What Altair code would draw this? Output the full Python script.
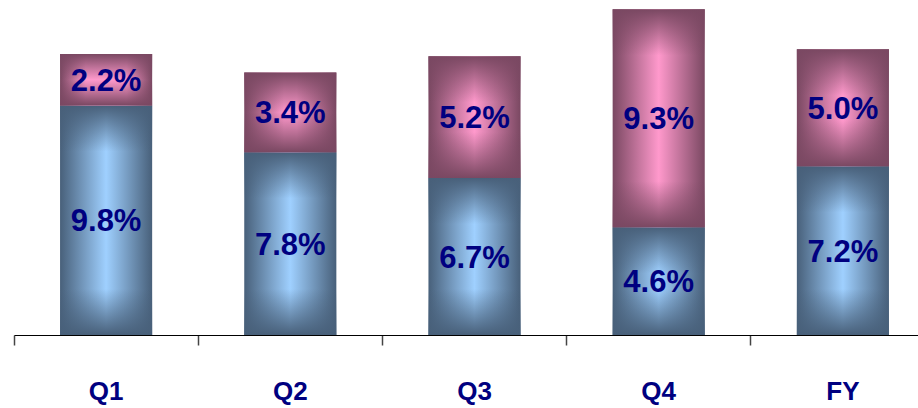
import altair as alt
import pandas as pd

categories = ["Q1", "Q2", "Q3", "Q4", "FY"]
bottom_values = [9.8, 7.8, 6.7, 4.6, 7.2]
top_values = [2.2, 3.4, 5.2, 9.3, 5.0]
bottom_labels = ["9.8%", "7.8%", "6.7%", "4.6%", "7.2%"]
top_labels = ["2.2%", "3.4%", "5.2%", "9.3%", "5.0%"]

Y_MAX = 14.3
PLOT_H = 335
PLOT_W = 904
RANGE_W = 921
BAR_W = RANGE_W / len(categories) * 0.5

BLUE_DARK = (72, 96, 122)
BLUE_LIGHT = "#9fd0ff"
PINK_DARK = (122, 72, 98)
PINK_LIGHT = "#ff99cc"

rows = []
for c, b, t, lb, lt in zip(categories, bottom_values, top_values, bottom_labels, top_labels):
    rows.append(dict(cat=c, series="bottom", y0=0.0, y1=b, mid=b / 2, label=lb))
    rows.append(dict(cat=c, series="top", y0=b, y1=b + t, mid=b + t / 2, label=lt))
df = pd.DataFrame(rows)

x_enc = alt.X(
    "cat:N",
    sort=categories,
    scale=alt.Scale(domain=categories, range=[0, RANGE_W], paddingInner=0, paddingOuter=0),
    axis=alt.Axis(
        title=None, bandPosition=0,
        tickSize=10, tickColor="#444444", tickWidth=1.5,
        domainColor="#000000", domainWidth=1.2,
        labelFont="Liberation Sans", labelFontSize=26, labelFontWeight="bold",
        labelColor="#000080", labelPadding=33, labelAngle=0, grid=False,
    ),
)
y_scale = alt.Scale(domain=[0, Y_MAX], nice=False, zero=True)


def rgba(c, a):
    return f"rgba({c[0]},{c[1]},{c[2]},{a})"


layers = []
for r in df.itertuples():
    dark, light = (BLUE_DARK, BLUE_LIGHT) if r.series == "bottom" else (PINK_DARK, PINK_LIGHT)
    h = (r.y1 - r.y0) * PLOT_H / Y_MAX
    m = min(BAR_W, h) / 2
    g = m / BAR_W
    f = m / h
    horiz = {
        "gradient": "linear", "x1": 0, "x2": 1, "y1": 0, "y2": 0,
        "stops": [
            {"offset": 0, "color": rgba(dark, 1)},
            {"offset": g, "color": light},
            {"offset": 1 - g, "color": light},
            {"offset": 1, "color": rgba(dark, 1)},
        ],
    }
    vert = {
        "gradient": "linear", "x1": 0, "x2": 0, "y1": 0, "y2": 1,
        "stops": [
            {"offset": 0, "color": rgba(dark, 1)},
            {"offset": f, "color": rgba(dark, 0)},
            {"offset": 1 - f, "color": rgba(dark, 0)},
            {"offset": 1, "color": rgba(dark, 1)},
        ],
    }
    flt = (alt.datum.cat == r.cat) & (alt.datum.series == r.series)
    for grad in (horiz, vert):
        layers.append(
            alt.Chart()
            .transform_filter(flt)
            .mark_bar(color=grad, width={"band": 0.5}, strokeWidth=0)
            .encode(
                x=x_enc,
                y=alt.Y("y0:Q", scale=y_scale, axis=None),
                y2="y1:Q",
            )
        )

text = (
    alt.Chart()
    .mark_text(font="Liberation Sans", fontSize=31, fontWeight="bold", color="#000080",
               baseline="middle", dy=2)
    .encode(x=x_enc, y=alt.Y("mid:Q", scale=y_scale, axis=None), text="label:N")
)
layers.append(text)

chart = (
    alt.layer(*layers, data=df)
    .properties(
        width=PLOT_W, height=PLOT_H, autosize="none",
        padding={"left": 14, "top": 0, "right": 0, "bottom": 73},
    )
    .configure_view(stroke=None)
)

chart.save("out.html", embed_options={"renderer": "svg", "actions": False})
